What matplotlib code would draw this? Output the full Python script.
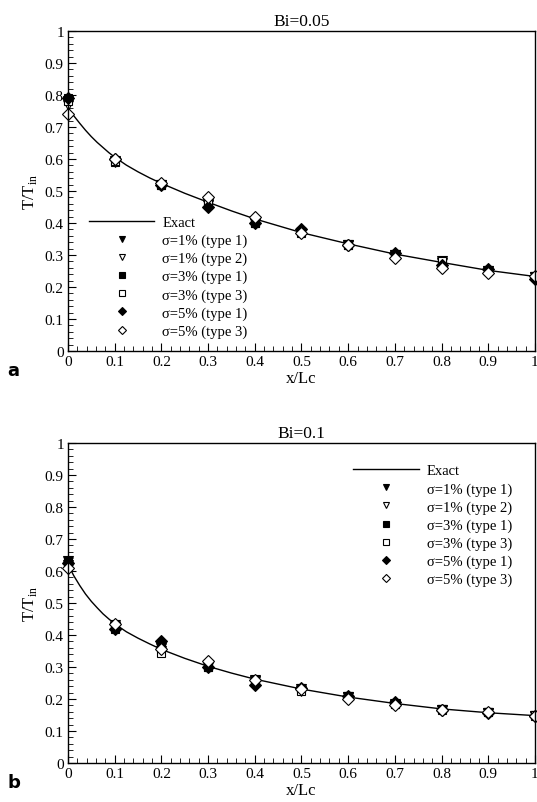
import numpy as np
import matplotlib
matplotlib.use("Agg")
import matplotlib.pyplot as plt

plt.rcParams['font.family'] = ['Liberation Serif', 'DejaVu Serif']
plt.rcParams['mathtext.fontset'] = 'custom'
plt.rcParams['mathtext.rm'] = 'Liberation Serif'

x_pts = [0.0, 0.1, 0.2, 0.3, 0.4, 0.5, 0.6, 0.7, 0.8, 0.9, 1.0]

# exact solution
x_exact = [0.0, 0.0125, 0.025, 0.0375, 0.05, 0.0625, 0.075, 0.0875, 0.1, 0.125,
           0.15, 0.175, 0.2, 0.25, 0.3, 0.35, 0.4, 0.5, 0.6, 0.7, 0.8, 0.9, 1.0]
exact_a = [0.76, 0.735, 0.712, 0.69, 0.67, 0.652, 0.636, 0.62, 0.606, 0.581,
           0.56, 0.541, 0.524, 0.493, 0.465, 0.438, 0.413, 0.37, 0.335, 0.303, 0.277, 0.252, 0.233]
exact_b = [0.62, 0.585, 0.555, 0.528, 0.505, 0.485, 0.466, 0.45, 0.435, 0.41,
           0.39, 0.372, 0.355, 0.327, 0.302, 0.281, 0.262, 0.231, 0.206, 0.186, 0.169, 0.157, 0.148]

labels = ['σ=1% (type 1)', 'σ=1% (type 2)', 'σ=3% (type 1)',
          'σ=3% (type 3)', 'σ=5% (type 1)', 'σ=5% (type 3)']

data_a = [
    [0.78, 0.595, 0.52, 0.455, 0.40, 0.37, 0.33, 0.30, 0.28, 0.25, 0.23],
    [0.77, 0.59, 0.52, 0.46, 0.40, 0.37, 0.33, 0.30, 0.275, 0.25, 0.23],
    [0.79, 0.59, 0.52, 0.455, 0.40, 0.375, 0.33, 0.30, 0.28, 0.25, 0.23],
    [0.78, 0.595, 0.52, 0.46, 0.40, 0.37, 0.33, 0.30, 0.28, 0.25, 0.235],
    [0.79, 0.60, 0.52, 0.45, 0.40, 0.38, 0.33, 0.305, 0.27, 0.255, 0.225],
    [0.74, 0.60, 0.525, 0.48, 0.42, 0.37, 0.33, 0.29, 0.26, 0.245, 0.235],
]
data_b = [
    [0.63, 0.425, 0.36, 0.305, 0.255, 0.23, 0.205, 0.18, 0.165, 0.155, 0.148],
    [0.62, 0.43, 0.35, 0.30, 0.26, 0.225, 0.205, 0.185, 0.165, 0.155, 0.148],
    [0.63, 0.42, 0.37, 0.30, 0.26, 0.235, 0.21, 0.185, 0.17, 0.16, 0.148],
    [0.62, 0.43, 0.345, 0.30, 0.26, 0.225, 0.205, 0.185, 0.165, 0.16, 0.15],
    [0.625, 0.42, 0.38, 0.30, 0.245, 0.235, 0.21, 0.19, 0.165, 0.155, 0.148],
    [0.61, 0.435, 0.355, 0.32, 0.26, 0.23, 0.20, 0.18, 0.165, 0.16, 0.148],
]

styles = [('v', 'k'), ('v', 'w'), ('s', 'k'), ('s', 'w'), ('D', 'k'), ('D', 'w')]
msizes = [6.5, 6.5, 6, 6, 6, 6]

fig = plt.figure(figsize=(5.37, 8.03), dpi=100)
ax_a = fig.add_axes([0.1266, 0.5616, 0.8696, 0.3985])
ax_b = fig.add_axes([0.1266, 0.0486, 0.8696, 0.3985])


def draw(ax, exact, data, title, anchor, tag):
    ax.plot(x_exact, exact, color='k', lw=1.0, label='Exact')
    for ys, (m, fc), ms, lab in zip(data, styles, msizes, labels):
        ax.plot(x_pts, ys, ls='none', marker=m, mfc=fc, mec='k', mew=0.8,
                ms=ms, label=lab, clip_on=False)
    ax.set_xlim(0, 1)
    ax.set_ylim(0, 1)
    ticks = np.arange(0, 1.01, 0.1)
    names = ['0', '0.1', '0.2', '0.3', '0.4', '0.5', '0.6', '0.7', '0.8', '0.9', '1']
    ax.set_xticks(ticks)
    ax.set_yticks(ticks)
    ax.set_xticklabels(names)
    ax.set_yticklabels(names)
    ax.set_xticks(np.arange(0, 1.001, 0.02), minor=True)
    ax.set_yticks(np.arange(0, 1.001, 0.02), minor=True)
    ax.tick_params(which='both', direction='in', labelsize=11, pad=3)
    ax.tick_params(which='major', length=6)
    ax.tick_params(which='minor', length=3.5)
    for s in ax.spines.values():
        s.set_linewidth(1.0)
    ax.set_title(title, fontsize=12.5, pad=4)
    ax.set_xlabel('x/Lc', fontsize=12, labelpad=1)
    ax.set_ylabel(r'T/T$_{\mathrm{in}}$', fontsize=12, labelpad=4)
    ax.legend(loc='upper left', bbox_to_anchor=anchor, frameon=False,
              fontsize=10.5, handlelength=4.5, handletextpad=0.55,
              labelspacing=0.32, markerscale=0.75, borderaxespad=0.0)
    ax.text(-0.13, -0.075, tag, transform=ax.transAxes, fontsize=13,
            fontweight='bold', family='DejaVu Sans')


draw(ax_a, exact_a, data_a, 'Bi=0.05', (0.032, 0.441), 'a')
draw(ax_b, exact_b, data_b, 'Bi=0.1', (0.598, 0.952), 'b')

fig.savefig('out.png', dpi=100)
